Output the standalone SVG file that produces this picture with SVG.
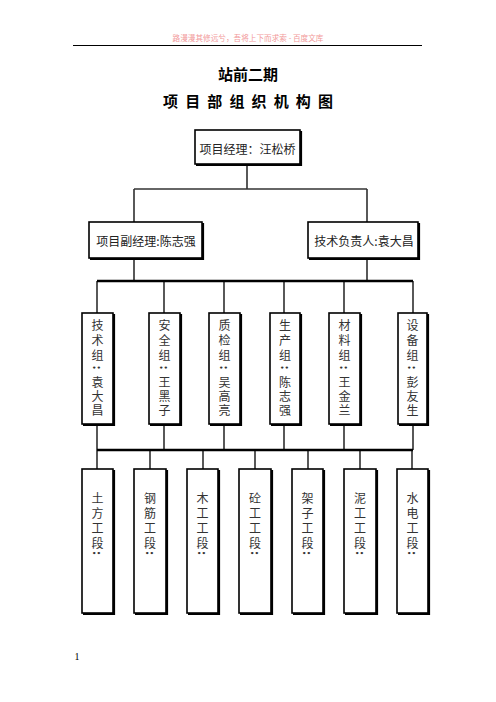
<svg xmlns="http://www.w3.org/2000/svg" width="496" height="702" viewBox="0 0 496 702">
<style>
.bg{fill:#fff}
.box{fill:#fff;stroke:#000;stroke-width:1.6}
.sh{fill:none;stroke:#000;stroke-width:2.2}
.ln{fill:none;stroke:#000;stroke-width:1.3}
.bus{fill:none;stroke:#000;stroke-width:2.6}
.t{font-family:"Noto Sans CJK SC","Liberation Serif",sans-serif;font-size:12px;fill:#222;dominant-baseline:central;text-anchor:middle}
.v{font-family:"Noto Sans CJK SC","Liberation Serif",sans-serif;font-size:12px;fill:#333;dominant-baseline:central;text-anchor:middle}
.c{font-family:"Liberation Serif",serif;font-size:14px;font-weight:bold;fill:#333;dominant-baseline:central;text-anchor:middle}
.title{font-family:"Noto Sans CJK SC",sans-serif;font-size:15px;font-weight:bold;fill:#000;text-anchor:middle;dominant-baseline:central}
</style>
<rect class="bg" x="0" y="0" width="496" height="702"/>
<g id="header">
<text x="248" y="41" font-family="Noto Sans CJK SC, sans-serif" font-size="8" fill="#f29a9a" text-anchor="middle" textLength="151" lengthAdjust="spacingAndGlyphs">路漫漫其修远兮，吾将上下而求索 - 百度文库</text>
<line x1="73" y1="45.5" x2="422" y2="45.5" stroke="#000" stroke-width="1.2"/>
</g>
<g id="title">
<text class="title" x="248" y="73">站前二期</text>
<text class="title" x="248" y="100" textLength="170" lengthAdjust="spacing">项 目 部 组 织 机 构 图</text>
</g>
<g id="connectors">
<path class="ln" d="M247 164V189M134 189V222M367 189V222M134 258V281M367 258V281"/>
<path d="M134 189H367" fill="none" stroke="#333" stroke-width="1.6"/>
<path class="bus" d="M97 281H413"/>
<path class="ln" d="M97 281V313M164 281V313M224 281V313M284 281V313M344 281V313M413 281V313"/>
<path class="ln" d="M97 424V450M164 424V450M224 424V450M284 424V450M344 424V450M413 424V450"/>
<path class="bus" d="M97 450H413"/>
<path class="ln" d="M97 450V469M150 450V469M203 450V469M255 450V469M308 450V469M360 450V469M412 450V469"/>
</g>
<g id="pm">
<rect class="box" x="195" y="130" width="105" height="34"/>
<path class="sh" d="M301 131V165H196"/>
<text class="t" x="247.5" y="148">项目经理：汪松桥</text>
</g>
<g id="deputy">
<rect class="box" x="89" y="222" width="113" height="36"/>
<path class="sh" d="M203 223V259H90"/>
<text class="t" x="146" y="240.5">项目副经理:陈志强</text>
</g>
<g id="tech">
<rect class="box" x="308" y="222" width="110" height="36"/>
<path class="sh" d="M419 223V259H309"/>
<text class="t" x="364" y="240.5">技术负责人:袁大昌</text>
</g>
<g id="g1">
<rect class="box" x="82" y="313" width="31" height="111"/><path class="sh" d="M114 314V425H83"/>
<text class="v"><tspan x="97.5" y="323.5">技</tspan><tspan x="97.5" y="339">术</tspan><tspan x="97.5" y="354">组</tspan><tspan x="97.5" y="381">袁</tspan><tspan x="97.5" y="395">大</tspan><tspan x="97.5" y="409">昌</tspan></text>
<text class="c" x="97.5" y="367.5" transform="rotate(90 97.5 367.5)">:</text>
</g>
<g id="g2">
<rect class="box" x="149" y="313" width="31" height="111"/><path class="sh" d="M181 314V425H150"/>
<text class="v"><tspan x="164.5" y="323.5">安</tspan><tspan x="164.5" y="339">全</tspan><tspan x="164.5" y="354">组</tspan><tspan x="164.5" y="381">王</tspan><tspan x="164.5" y="395">黑</tspan><tspan x="164.5" y="409">子</tspan></text>
<text class="c" x="164.5" y="367.5" transform="rotate(90 164.5 367.5)">:</text>
</g>
<g id="g3">
<rect class="box" x="209" y="313" width="31" height="111"/><path class="sh" d="M241 314V425H210"/>
<text class="v"><tspan x="224.5" y="323.5">质</tspan><tspan x="224.5" y="339">检</tspan><tspan x="224.5" y="354">组</tspan><tspan x="224.5" y="381">吴</tspan><tspan x="224.5" y="395">高</tspan><tspan x="224.5" y="409">亮</tspan></text>
<text class="c" x="224.5" y="367.5" transform="rotate(90 224.5 367.5)">:</text>
</g>
<g id="g4">
<rect class="box" x="270" y="313" width="30" height="111"/><path class="sh" d="M301 314V425H271"/>
<text class="v"><tspan x="285" y="323.5">生</tspan><tspan x="285" y="339">产</tspan><tspan x="285" y="354">组</tspan><tspan x="285" y="381">陈</tspan><tspan x="285" y="395">志</tspan><tspan x="285" y="409">强</tspan></text>
<text class="c" x="285" y="367.5" transform="rotate(90 285 367.5)">:</text>
</g>
<g id="g5">
<rect class="box" x="329" y="313" width="31" height="111"/><path class="sh" d="M361 314V425H330"/>
<text class="v"><tspan x="344.5" y="323.5">材</tspan><tspan x="344.5" y="339">料</tspan><tspan x="344.5" y="354">组</tspan><tspan x="344.5" y="381">王</tspan><tspan x="344.5" y="395">金</tspan><tspan x="344.5" y="409">兰</tspan></text>
<text class="c" x="344.5" y="367.5" transform="rotate(90 344.5 367.5)">:</text>
</g>
<g id="g6">
<rect class="box" x="398" y="313" width="29" height="111"/><path class="sh" d="M428 314V425H399"/>
<text class="v"><tspan x="412.5" y="323.5">设</tspan><tspan x="412.5" y="339">备</tspan><tspan x="412.5" y="354">组</tspan><tspan x="412.5" y="381">彭</tspan><tspan x="412.5" y="395">友</tspan><tspan x="412.5" y="409">生</tspan></text>
<text class="c" x="412.5" y="367.5" transform="rotate(90 412.5 367.5)">:</text>
</g>
<g id="s1">
<rect class="box" x="82" y="469" width="31" height="144"/><path class="sh" d="M114 470V614H83"/>
<text class="v"><tspan x="97.5" y="497">土</tspan><tspan x="97.5" y="512">方</tspan><tspan x="97.5" y="527">工</tspan><tspan x="97.5" y="541.5">段</tspan></text>
<text class="c" x="97.5" y="553" transform="rotate(90 97.5 553)">:</text>
</g>
<g id="s2">
<rect class="box" x="134" y="469" width="32" height="144"/><path class="sh" d="M167 470V614H135"/>
<text class="v"><tspan x="150" y="497">钢</tspan><tspan x="150" y="512">筋</tspan><tspan x="150" y="527">工</tspan><tspan x="150" y="541.5">段</tspan></text>
<text class="c" x="150" y="553" transform="rotate(90 150 553)">:</text>
</g>
<g id="s3">
<rect class="box" x="187" y="469" width="31" height="144"/><path class="sh" d="M219 470V614H188"/>
<text class="v"><tspan x="202.5" y="497">木</tspan><tspan x="202.5" y="512">工</tspan><tspan x="202.5" y="527">工</tspan><tspan x="202.5" y="541.5">段</tspan></text>
<text class="c" x="202.5" y="553" transform="rotate(90 202.5 553)">:</text>
</g>
<g id="s4">
<rect class="box" x="239" y="469" width="32" height="144"/><path class="sh" d="M272 470V614H240"/>
<text class="v"><tspan x="255" y="497">砼</tspan><tspan x="255" y="512">工</tspan><tspan x="255" y="527">工</tspan><tspan x="255" y="541.5">段</tspan></text>
<text class="c" x="255" y="553" transform="rotate(90 255 553)">:</text>
</g>
<g id="s5">
<rect class="box" x="292" y="469" width="31" height="144"/><path class="sh" d="M324 470V614H293"/>
<text class="v"><tspan x="307.5" y="497">架</tspan><tspan x="307.5" y="512">子</tspan><tspan x="307.5" y="527">工</tspan><tspan x="307.5" y="541.5">段</tspan></text>
<text class="c" x="307.5" y="553" transform="rotate(90 307.5 553)">:</text>
</g>
<g id="s6">
<rect class="box" x="344" y="469" width="32" height="144"/><path class="sh" d="M377 470V614H345"/>
<text class="v"><tspan x="360" y="497">泥</tspan><tspan x="360" y="512">工</tspan><tspan x="360" y="527">工</tspan><tspan x="360" y="541.5">段</tspan></text>
<text class="c" x="360" y="553" transform="rotate(90 360 553)">:</text>
</g>
<g id="s7">
<rect class="box" x="397" y="469" width="31" height="144"/><path class="sh" d="M429 470V614H398"/>
<text class="v"><tspan x="412.5" y="497">水</tspan><tspan x="412.5" y="512">电</tspan><tspan x="412.5" y="527">工</tspan><tspan x="412.5" y="541.5">段</tspan></text>
<text class="c" x="412.5" y="553" transform="rotate(90 412.5 553)">:</text>
</g>
<g id="footer">
<text x="77" y="660" font-family="Liberation Serif, serif" font-size="10" fill="#000" text-anchor="middle">1</text>
</g>
</svg>
